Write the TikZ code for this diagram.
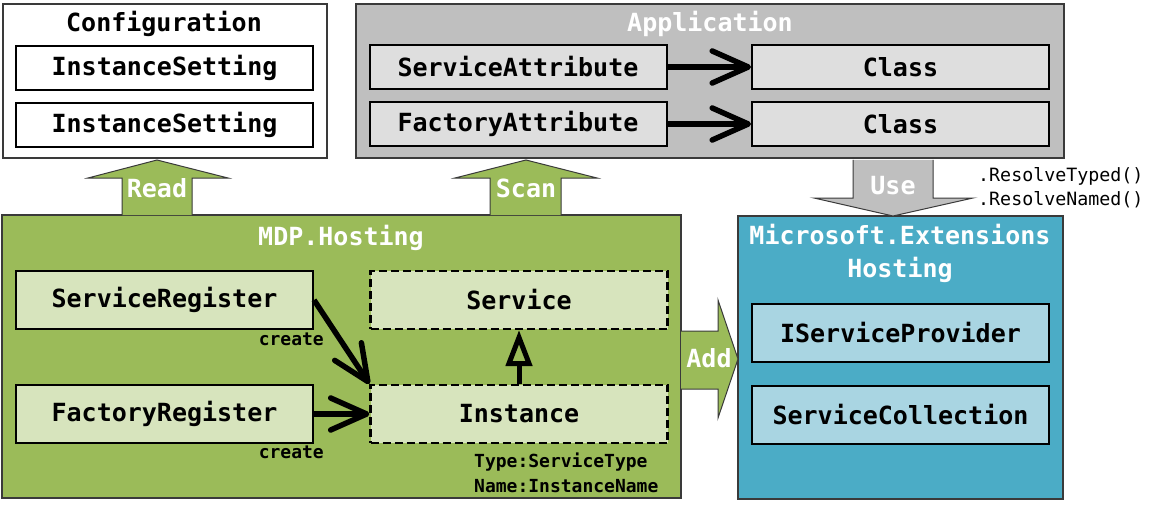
\documentclass[tikz,border=0pt]{standalone}
\usepackage{fontspec}
\newfontfamily\diagfont{DejaVu Sans Mono}
\usetikzlibrary{arrows.meta}

\definecolor{hostgreen}{HTML}{9BBB59}
\definecolor{hostlight}{HTML}{D7E4BD}
\definecolor{msblue}{HTML}{4BACC6}
\definecolor{mslight}{HTML}{A9D5E2}
\definecolor{appgray}{HTML}{BFBFBF}
\definecolor{applight}{HTML}{DEDEDE}
\definecolor{framegray}{HTML}{3A3A3A}

\newcommand{\boxfont}{\diagfont\bfseries\fontsize{25}{28}\selectfont}
\newcommand{\notefont}{\diagfont\bfseries\fontsize{18}{21}\selectfont}
\newcommand{\callfont}{\diagfont\fontsize{18.3}{21}\selectfont}

\begin{document}
\begin{tikzpicture}[x=1pt, y=-1pt,
    frame/.style={draw=framegray, line width=2pt},
    title/.style={font=\boxfont, text=white, inner sep=0pt},
    box/.style={draw=black, line width=2pt, minimum width=297pt, minimum height=44pt, inner sep=0pt, font=\boxfont},
    tallbox/.style={box, minimum height=58pt},
    ghost/.style={tallbox, line width=2.2pt, dash pattern=on 8pt off 4pt},
    note/.style={font=\notefont, inner sep=0pt},
    bigarrow/.style={draw=framegray, line width=1pt},
    flow/.style={line width=5.5pt, -{Straight Barb[length=36pt, width=32pt, line width=5.5pt, round]}},
    inherit/.style={line width=5pt, -{Triangle[open, length=36pt, width=26pt, line width=5pt]}}]
    \useasboundingbox (0,0) rectangle (1154,508);

    % configurazione
    \node[frame, fill=white, minimum width=324pt, minimum height=154pt] (config) at (165,81) {};
    \node[title, text=black] (configtitle) at (164,24) {Configuration};
    \node[box, fill=white] (setting1) at (164.5,68) {InstanceSetting};
    \node[box, fill=white] (setting2) at (164.5,125) {InstanceSetting};

    % applicazione
    \node[frame, fill=appgray, minimum width=708pt, minimum height=154pt] (app) at (710,81) {};
    \node[title] (apptitle) at (710,24) {Application};
    \node[box, fill=applight] (svcattr) at (518,67) {ServiceAttribute};
    \node[box, fill=applight] (facattr) at (518,124) {FactoryAttribute};
    \node[box, fill=applight] (class1) at (900.5,67) {Class};
    \node[box, fill=applight] (class2) at (900.5,124) {Class};
    \draw[flow] (svcattr.east) -- (class1.west);
    \draw[flow] (facattr.east) -- (class2.west);

    % hosting MDP
    \node[frame, fill=hostgreen, minimum width=679pt, minimum height=283pt] (mdp) at (341.5,356.5) {};
    \node[title] (mdptitle) at (341,238) {MDP.Hosting};
    \node[tallbox, fill=hostlight] (svcreg) at (164.5,300) {ServiceRegister};
    \node[tallbox, fill=hostlight] (facreg) at (164.5,414) {FactoryRegister};
    \node[ghost, fill=hostlight] (service) at (519,300) {Service};
    \node[ghost, fill=hostlight] (instance) at (519,414) {Instance};
    \node[note, anchor=east] (create1) at (324,339) {create};
    \node[note, anchor=east] (create2) at (324,452) {create};
    \node[note, anchor=west] (typenote) at (474,462) {Type:ServiceType};
    \node[note, anchor=west] (namenote) at (474,486) {Name:InstanceName};
    \draw[flow] (svcreg.east) -- (instance.north west);
    \draw[flow] (facreg.east) -- (instance.west);
    \draw[inherit] (instance.north) -- (service.south);

    % hosting microsoft
    \node[frame, fill=msblue, minimum width=325pt, minimum height=283pt] (ms) at (900.5,357.5) {};
    \node[title, align=center] (mstitle) at (900,253.5) {Microsoft.Extensions\\[5pt]Hosting};
    \node[tallbox, fill=mslight] (provider) at (900.5,333) {IServiceProvider};
    \node[tallbox, fill=mslight] (collection) at (900.5,414.5) {ServiceCollection};

    % frecce grandi
    \filldraw[bigarrow, fill=hostgreen] (122,215) -- (122,178) -- (88,178) -- (157,160) -- (228,178) -- (192,178) -- (192,215);
    \node[title] (read) at (157,188) {Read};
    \filldraw[bigarrow, fill=hostgreen] (490,215) -- (490,178) -- (455,178) -- (526,160) -- (597,178) -- (561,178) -- (561,215);
    \node[title] (scan) at (526,188) {Scan};
    \filldraw[bigarrow, fill=appgray] (853,160) -- (853,198) -- (814,198) -- (893,216) -- (973,198) -- (933,198) -- (933,160);
    \node[title] (use) at (893,186) {Use};
    \filldraw[bigarrow, fill=hostgreen] (681,331) -- (718,331) -- (718,300) -- (738,359) -- (718,418) -- (718,389) -- (681,389);
    \node[title] (add) at (709,358) {Add};

    % chiamate
    \node[anchor=west, font=\callfont, inner sep=0pt] (typed) at (978,176) {.ResolveTyped()};
    \node[anchor=west, font=\callfont, inner sep=0pt] (named) at (978,200) {.ResolveNamed()};
\end{tikzpicture}
\end{document}
